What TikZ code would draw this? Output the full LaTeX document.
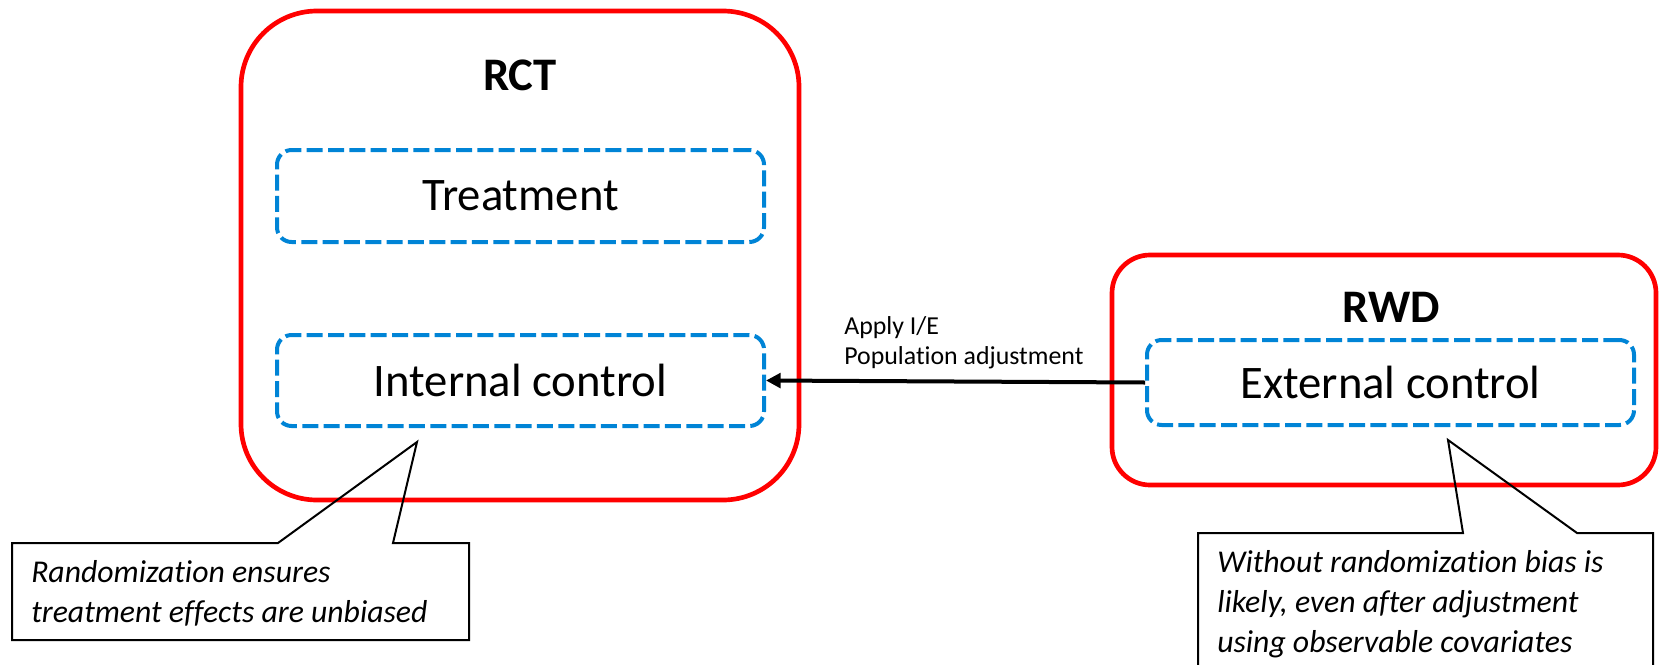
\documentclass[tikz,border=0pt]{standalone}
\usepackage{fontspec}
\setmainfont{Carlito}[Ligatures = NoCommon]
\usetikzlibrary{arrows.meta}
\definecolor{studyred}{RGB}{255,0,0}
\definecolor{armblue}{RGB}{0,132,214}
\tikzset{
  study/.style = {draw = studyred, line width = 3.5pt, rounded corners = #1},
  studytitle/.style = {font = \fontsize{35}{42}\selectfont\bfseries},
  arm/.style = {draw = armblue, line width = 3pt, dash pattern = on 12pt off 4pt,
    rounded corners = 11pt, minimum width = 365.25pt, font = \fontsize{35}{42}\selectfont},
  callout/.style = {line width = 1.5pt},
  notetext/.style = {anchor = north west, inner sep = 0, align = left,
    font = \fontsize{23.8}{30}\selectfont\itshape},
}
\begin{document}
\begin{tikzpicture}[x = 0.75pt, y = -0.75pt]
  \useasboundingbox (0, 0) rectangle (1659, 664);
  \clip (0, 0) rectangle (1659, 664);

  % trial
  \node[study = 57pt, minimum width = 418.5pt, minimum height = 366.75pt] (rct) at (520, 255.5) {};
  \node[studytitle] (rcttitle) at (520, 75) {RCT};
  \node[arm, minimum height = 69pt] (treatment) at (520.5, 196) {Treatment};
  \node[arm, minimum height = 68.25pt] (internal) at (520.5, 380.5) {Internal control};

  % real world data
  \node[study = 28.5pt, minimum width = 408pt, minimum height = 172.5pt] (rwd) at (1384, 370) {};
  \node[studytitle] (rwdtitle) at (1391, 307) {RWD};
  \node[arm, minimum height = 63.75pt] (external) at (1390.5, 382.5) {External control};

  \draw[line width = 3pt, -{Triangle[length = 11pt, width = 11pt]}] (external.west) -- (internal.east);
  \node[anchor = north west, inner sep = 0, align = left, font = \fontsize{19.4}{22.5}\selectfont]
    (adjust) at (844, 316) {Apply I/E\\Population adjustment};

  % notes
  \coordinate (tipL) at (417, 442);
  \draw[callout] (12, 543) -- (278, 543) -- (tipL) -- (393, 543) -- (469, 543)
    -- (469, 640) -- (12, 640) -- cycle;
  \node[notetext] (noteL) at (31, 560) {Randomization ensures\\treatment effects are unbiased};

  \coordinate (tipR) at (1448, 440);
  \draw[callout] (1198, 690) -- (1198, 533) -- (1463, 533) -- (tipR) -- (1577, 533)
    -- (1653, 533) -- (1653, 690);
  \node[notetext] (noteR) at (1217, 550) {Without randomization bias is\\likely, even after adjustment\\using observable covariates};
\end{tikzpicture}
\end{document}
